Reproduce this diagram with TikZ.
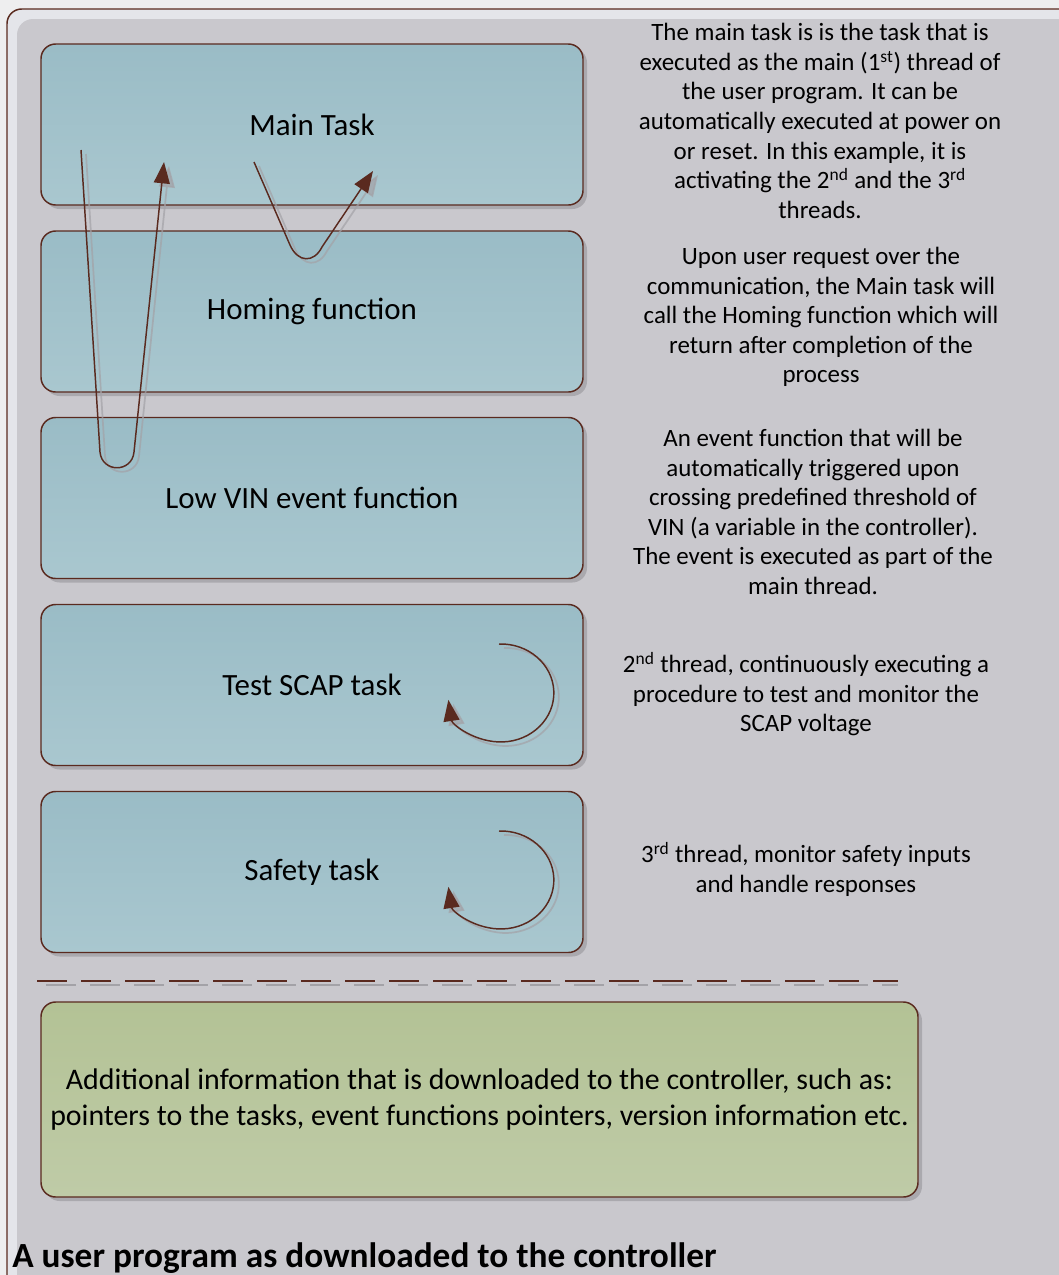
\documentclass[tikz,border=0pt]{standalone}
\usepackage{fontspec}
\setmainfont{Carlito}
\usetikzlibrary{arrows.meta,shadows}
\definecolor{bgout}{HTML}{EEEEEF}
\definecolor{edgering}{HTML}{E4E5EA}
\definecolor{panel}{HTML}{C9C8CD}
\definecolor{brownline}{HTML}{5A2A1F}
\definecolor{bluetop}{HTML}{9ABCC6}
\definecolor{bluebot}{HTML}{A9C7CF}
\definecolor{greentop}{HTML}{B3C295}
\definecolor{greenbot}{HTML}{BFCBA7}
\definecolor{shadowgray}{HTML}{A3A2A7}
\tikzset{
  taskbox/.style={draw=brownline, line width=1.1pt, rounded corners=11pt,
    top color=bluetop, bottom color=bluebot,
    minimum width=406.5pt, minimum height=120.75pt, inner sep=0pt,
    font=\fontsize{23.2}{27}\selectfont,
    drop shadow={shadow xshift=3pt, shadow yshift=-3pt, fill=shadowgray, opacity=0.8}},
  infobox/.style={draw=brownline, line width=1.1pt, rounded corners=11pt,
    top color=greentop, bottom color=greenbot,
    minimum width=657.75pt, minimum height=146.25pt, inner sep=0pt,
    font=\fontsize{22.4}{26.3}\selectfont, align=center,
    drop shadow={shadow xshift=3pt, shadow yshift=-3pt, fill=shadowgray, opacity=0.8}},
  note/.style={align=center, font=\fontsize{18.7}{22.2}\selectfont, inner sep=0pt},
  flow/.style={draw=brownline, line width=1.1pt, -{Triangle[length=16pt,width=12pt]}},
  flowshadow/.style={draw=shadowgray, line width=1.3pt, opacity=0.7, -{Triangle[length=16pt,width=12pt]}},
}
\begin{document}
\begin{tikzpicture}[x=0.75pt,y=-0.75pt]
\useasboundingbox (0,0) rectangle (1059,1275);
\clip (0,0) rectangle (1059,1275);
\fill[bgout] (0,0) rectangle (1059,1275);
% outer frame
\draw[brownline, line width=1.1pt, fill=edgering, rounded corners=11pt] (7,9) rectangle (1090,1300);
\fill[panel, rounded corners=12pt] (17,19) rectangle (1080,1290);

% task boxes
\node[taskbox] (main) at (312,124.5) {Main Task};
\node[taskbox] (homing) at (312,311.5) {Homing function};
\node[taskbox] (lowvin) at (312,498) {Low VIN event function};
\node[taskbox] (scap) at (312,685) {Test SCAP task};
\node[taskbox] (safety) at (312,872) {Safety task};

% notes
\node[note] (n1) at (820,121) {The main task is is the task that is\\executed as the main (1\textsuperscript{st}) thread of\\the user program. It can be\\automatically executed at power on\\or reset. In this example, it is\\activating the 2\textsuperscript{nd} and the 3\textsuperscript{rd}\\threads.};
\node[note] (n2) at (821,317) {Upon user request over the\\communication, the Main task will\\call the Homing function which will\\return after completion of the\\process};
\node[note] (n3) at (813,512) {An event function that will be\\automatically triggered upon\\crossing predefined threshold of\\VIN (a variable in the controller).\\The event is executed as part of the\\main thread.};
\node[note] (n4) at (806,694) {2\textsuperscript{nd} thread, continuously executing a\\procedure to test and monitor the\\SCAP voltage};
\node[note] (n5) at (806,869) {3\textsuperscript{rd} thread, monitor safety inputs\\and handle responses};

% flow arrows
\coordinate (a1s) at (81,150);
\coordinate (a1e) at (164,162);
\coordinate (a2s) at (254,162);
\coordinate (a2e) at (373,171);
\draw[flowshadow] ([shift={(5,4)}]a1s) -- (105,456) .. controls (107,477) and (137,477) .. (139,456) -- ([shift={(5,4)}]a1e);
\draw[flowshadow] ([shift={(5,4)}]a2s) -- (295,249) .. controls (303,267) and (319,267) .. (327,251) -- ([shift={(5,4)}]a2e);
\draw[flow] (a1s) -- (100,452) .. controls (102,473) and (132,473) .. (134,452) -- (a1e);
\draw[flow] (a2s) -- (290,245) .. controls (298,263) and (314,263) .. (322,247) -- (a2e);

% loop arrows
\coordinate (l1) at (499,644);
\coordinate (l2) at (499,831);
\draw[flowshadow] ([shift={(5,4)}]l1) arc[start angle=-92, end angle=172, x radius=53, y radius=49];
\draw[flow] (l1) arc[start angle=-92, end angle=172, x radius=53, y radius=49];
\draw[flowshadow] ([shift={(5,4)}]l2) arc[start angle=-92, end angle=172, x radius=53, y radius=49];
\draw[flow] (l2) arc[start angle=-92, end angle=172, x radius=53, y radius=49];

% dashed separator
\coordinate (d1) at (37,981);
\coordinate (d2) at (898,981);
\draw[shadowgray, line width=1.5pt, dash pattern=on 22.5pt off 10.5pt] ([shift={(9,4)}]d1) -- ([shift={(0,4)}]d2);
\draw[brownline, line width=1.5pt, dash pattern=on 22.5pt off 10.5pt] (d1) -- (d2);

% info box
\node[infobox] (info) at (479.5,1099.5) {Additional information that is downloaded to the controller, such as:\\pointers to the tasks, event functions pointers, version information etc.};

% title
\node[anchor=base west, inner sep=0pt, font=\bfseries\fontsize{26.5}{30}\selectfont] (title) at (12,1267) {A user program as downloaded to the controller};
\end{tikzpicture}
\end{document}
